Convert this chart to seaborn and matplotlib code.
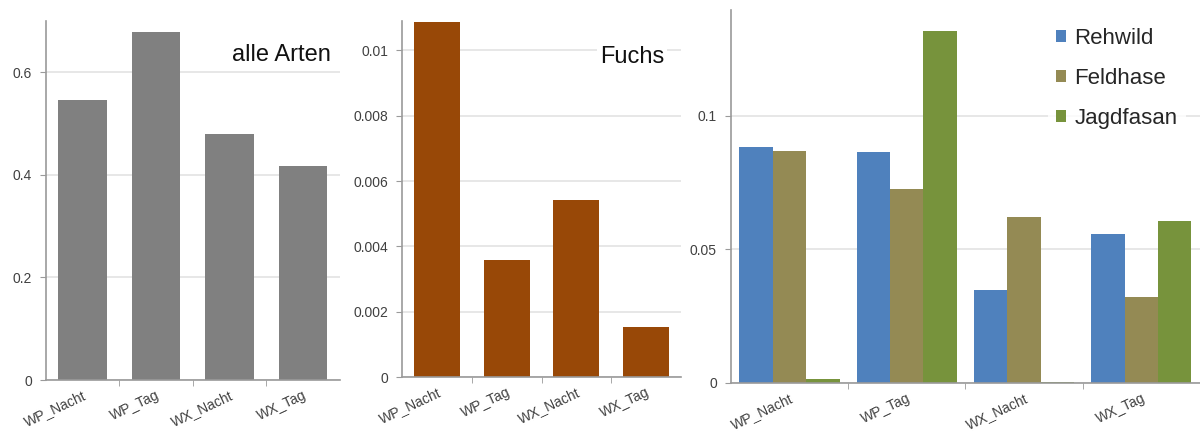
import matplotlib
matplotlib.use("Agg")
import matplotlib.pyplot as plt
import matplotlib.ticker as mticker
import seaborn as sns
import pandas as pd

# Daten
kategorien = ["WP_Nacht", "WP_Tag", "WX_Nacht", "WX_Tag"]
alle_arten = [0.546, 0.678, 0.480, 0.417]
fuchs = [0.01086, 0.00359, 0.00543, 0.00153]
arten = ["Rehwild", "Feldhase", "Jagdfasan"]
rehwild = [0.0884, 0.0865, 0.0348, 0.0558]
feldhase = [0.0869, 0.0727, 0.0622, 0.0322]
jagdfasan = [0.0015, 0.1318, 0.0002, 0.0607]

farben = ["#4F81BD", "#948A54", "#77933C"]

sns.set_style("white")
plt.rcParams["font.family"] = ["Liberation Sans", "DejaVu Sans"]

fig = plt.figure(figsize=(12, 4.36), dpi=100)
ax1 = fig.add_axes([0.0383, 0.1284, 0.245, 0.8234])
ax2 = fig.add_axes([0.335, 0.1353, 0.2325, 0.8167])
ax3 = fig.add_axes([0.609, 0.1216, 0.391, 0.8555])

sns.barplot(x=kategorien, y=alle_arten, color="#808080", width=0.66, saturation=1,
            linewidth=0, ax=ax1)
sns.barplot(x=kategorien, y=fuchs, color="#984807", width=0.66, saturation=1,
            linewidth=0, ax=ax2)

df = pd.DataFrame({
    "Kategorie": kategorien * 3,
    "Wert": rehwild + feldhase + jagdfasan,
    "Art": [a for a in arten for _ in kategorien],
})
sns.barplot(data=df, x="Kategorie", y="Wert", hue="Art", palette=farben,
            width=0.855, saturation=1, linewidth=0, ax=ax3)

ax1.set_ylim(0, 0.7)
ax1.set_yticks([0, 0.2, 0.4, 0.6])
ax2.set_ylim(0, 0.0109)
ax2.set_yticks([0, 0.002, 0.004, 0.006, 0.008, 0.01])
ax3.set_ylim(0, 0.1397)
ax3.set_yticks([0, 0.05, 0.1])

for ax in (ax1, ax2, ax3):
    ax.set_xlim(-0.5, 3.5)
    ax.set_xlabel("")
    ax.set_ylabel("")
    ax.yaxis.set_major_formatter(mticker.FuncFormatter(lambda v, p: "%g" % v))
    ax.grid(axis="y", color="#e3e3e3", linewidth=1.2)
    ax.set_axisbelow(True)
    for s in ("top", "right"):
        ax.spines[s].set_visible(False)
    for s in ("left", "bottom"):
        ax.spines[s].set_color("#9a9a9a")
        ax.spines[s].set_linewidth(1.2)
    ax.set_xticks([0, 1, 2, 3])
    ax.set_xticklabels(kategorien, rotation=25, ha="right", rotation_mode="anchor",
                       fontsize=10, color="#404040")
    ax.xaxis.set_minor_locator(mticker.FixedLocator([0.5, 1.5, 2.5]))
    ax.tick_params(axis="x", which="major", length=0, pad=6)
    ax.tick_params(axis="x", which="minor", length=4, color="#9a9a9a", bottom=True)
    ax.tick_params(axis="y", length=4, color="#9a9a9a", left=True, labelsize=10,
                   labelcolor="#404040", pad=6)

ax1.text(0.80, 0.905, "alle Arten", transform=ax1.transAxes, ha="center", va="center",
         fontsize=17, color="#111111",
         bbox=dict(facecolor="white", edgecolor="none", pad=2))
ax2.text(0.826, 0.90, "Fuchs", transform=ax2.transAxes, ha="center", va="center",
         fontsize=17, color="#111111",
         bbox=dict(facecolor="white", edgecolor="none", pad=2))

ax3.legend(loc="upper left", bbox_to_anchor=(0.675, 0.975), frameon=True, facecolor="white",
           edgecolor="none", fontsize=16, handlelength=0.45, handleheight=0.45,
           handletextpad=0.35, labelspacing=0.85, borderaxespad=0)

fig.savefig("out.png", dpi=100)
